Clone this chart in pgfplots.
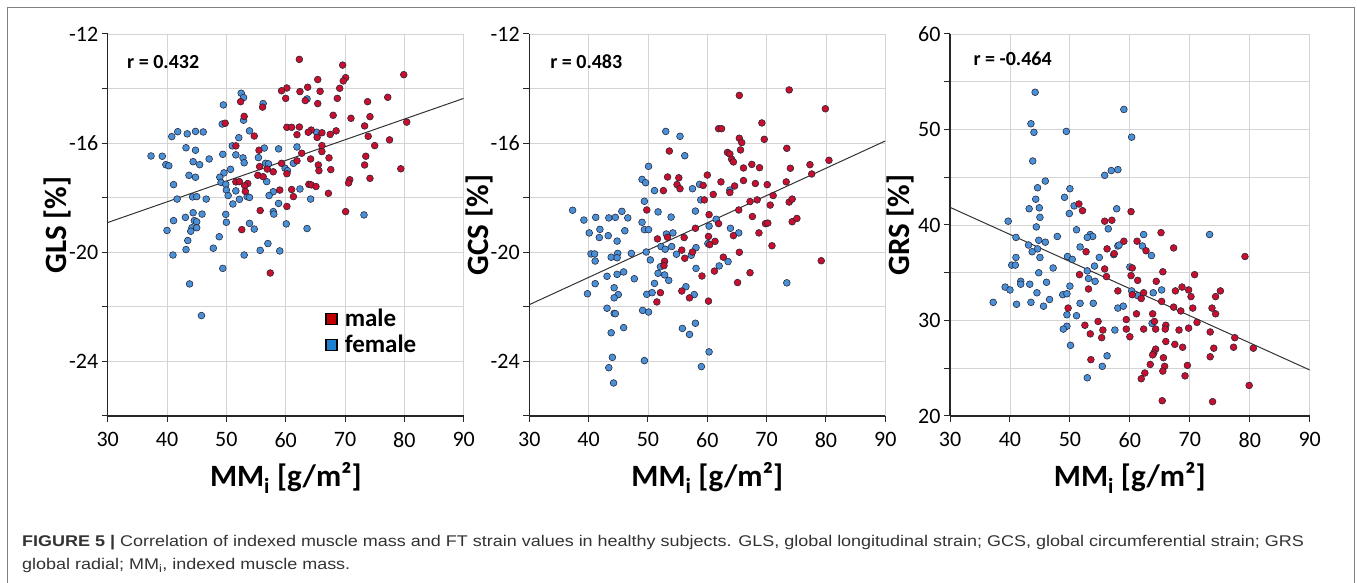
\documentclass[border=0pt]{standalone}
\usepackage{fontspec}
\setmainfont{Carlito}
\newfontfamily\capfont[FakeStretch=1.16]{Liberation Sans}
\usepackage{pgfplots}
\pgfplotsset{compat=1.18}
\definecolor{mred}{RGB}{200,16,46}
\definecolor{fblue}{RGB}{74,144,214}
\definecolor{mkedge}{RGB}{35,35,55}
\definecolor{gridc}{RGB}{212,212,212}
\definecolor{legred}{RGB}{192,0,0}
\definecolor{legblue}{RGB}{32,128,208}

\pgfplotsset{
 panel/.style={
  scale only axis, width=356pt, height=382pt, anchor=south west,
  xmin=30, xmax=90, enlargelimits=false,
  axis lines=left, axis line style={-, line width=1.4pt, black!85},
  xtick={30,40,...,90}, xticklabels={30,40,50,60,70,80,90},
  grid=major, grid style={gridc, line width=0.9pt},
  tick align=outside, major tick length=6pt, tick style={black!85, line width=1pt},
  ticklabel style={font=\fontsize{22}{22}\selectfont},
  xticklabel style={yshift=-7pt},
 },
 fem/.style={only marks, mark=*, mark size=3.4pt, mark options={fill=fblue, draw=mkedge, line width=0.55pt}},
 mal/.style={only marks, mark=*, mark size=3.4pt, mark options={fill=mred, draw=mkedge, line width=0.55pt}},
 reg/.style={black!80, line width=1pt, no marks},
}

\begin{document}
\begin{tikzpicture}
\useasboundingbox (0pt,0pt) rectangle (1357pt,583pt);
\draw[gray, line width=1pt] (7pt,-5pt) -- (7pt,575pt) -- (1354pt,575pt) -- (1354pt,-5pt);

% ---------------- Panel 1: GLS
\begin{axis}[panel, at={(107.7pt,167pt)}, ymin=-26, ymax=-12,
  ytick={-26,-24,...,-12}, yticklabels={,-24,,-20,,-16,,-12},
  reverse legend, legend cell align=left,
  legend style={at={(0.611,0.285)}, anchor=north west, draw=none, fill=none,
    font=\bfseries\fontsize{25}{25}\selectfont, row sep=3pt, inner sep=0pt,
    /tikz/every odd column/.append style={column sep=5pt}}]
\addplot[fem, legend image code/.code={\fill[legblue, draw=black, line width=1.4pt] (0pt,-5.5pt) rectangle (11pt,5.5pt);}] coordinates {
(37.3,-16.47)(39.2,-16.48)(39.8,-16.79)(40.3,-16.83)(40.8,-15.76)(41.8,-15.58)(43.4,-15.66)(44.8,-15.57)(46.1,-15.59)(43.2,-16.17)(44.8,-16.26)(44.4,-16.68)(45.5,-16.79)(47.1,-16.58)(43.7,-17.18)(44.8,-17.25)(41.1,-17.52)(41.7,-18.05)(44.3,-17.97)(45.0,-17.96)(46.6,-18.05)(44.4,-18.55)(45.9,-18.60)(43.1,-18.72)(41.1,-18.84)(44.6,-18.84)(45.0,-18.88)(44.2,-19.10)(45.0,-19.10)(44.0,-19.23)(40.0,-19.20)(43.5,-19.57)(48.8,-19.43)(43.2,-19.90)(47.8,-19.85)(41.0,-20.10)(49.4,-20.59)(43.8,-21.16)(45.8,-22.32)(52.5,-14.17)(52.9,-14.33)(49.5,-14.60)(49.3,-15.30)(52.9,-15.16)(56.2,-14.55)(53.9,-15.55)(52.1,-15.80)(51.0,-16.10)(49.4,-16.41)(51.6,-16.43)(52.8,-16.54)(53.0,-16.72)(55.4,-16.53)(56.4,-16.18)(58.8,-16.21)(61.9,-16.14)(50.7,-16.96)(49.6,-17.09)(48.9,-17.25)(49.1,-17.44)(49.9,-17.51)(50.0,-17.72)(50.3,-17.92)(51.6,-17.75)(52.2,-18.06)(51.1,-18.23)(53.5,-17.96)(53.9,-17.99)(56.6,-16.74)(57.1,-16.76)(56.8,-17.41)(57.9,-17.78)(57.2,-17.92)(58.8,-18.21)(57.9,-18.51)(58.0,-18.60)(61.3,-16.74)(59.9,-16.92)(60.3,-17.01)(62.4,-17.68)(64.2,-18.05)(49.9,-18.61)(50.0,-18.90)(53.9,-18.94)(54.7,-19.15)(60.1,-18.96)(63.6,-19.13)(53.0,-20.10)(55.7,-19.93)(57.0,-19.68)(59.0,-19.95)(65.2,-15.60)(63.6,-14.38)(73.2,-18.63)
};
\addlegendentry{female}
\addplot[mal, legend image code/.code={\fill[legred, draw=black, line width=1.4pt] (0pt,-5.5pt) rectangle (11pt,5.5pt);}] coordinates {
(62.3,-12.93)(69.6,-13.14)(79.9,-13.49)(70.1,-13.60)(69.7,-13.72)(65.4,-13.67)(63.7,-13.95)(60.2,-13.98)(59.3,-14.08)(62.4,-14.11)(65.8,-14.10)(69.1,-13.99)(60.0,-14.36)(63.3,-14.44)(65.4,-14.55)(68.7,-14.36)(77.2,-14.32)(73.8,-14.48)(52.4,-14.48)(56.1,-14.68)(53.0,-15.02)(49.8,-15.27)(68.0,-14.98)(71.0,-15.09)(74.2,-15.03)(80.4,-15.23)(60.2,-15.42)(61.0,-15.42)(62.3,-15.41)(73.3,-15.37)(64.3,-15.52)(63.8,-15.60)(66.1,-15.62)(68.5,-15.55)(67.5,-15.68)(61.9,-15.69)(65.3,-15.79)(54.7,-15.74)(73.9,-15.75)(77.5,-15.88)(51.6,-16.10)(66.1,-16.09)(75.0,-16.09)(55.5,-16.26)(66.1,-16.31)(62.7,-16.37)(73.5,-16.48)(64.2,-16.58)(67.3,-16.54)(61.9,-16.65)(59.3,-16.74)(55.6,-16.86)(65.5,-16.80)(73.3,-16.80)(56.9,-16.95)(79.4,-16.94)(65.6,-17.01)(67.6,-16.97)(57.9,-17.05)(60.2,-17.12)(55.3,-17.18)(56.2,-17.23)(74.2,-17.29)(70.8,-17.34)(51.6,-17.42)(52.2,-17.41)(53.6,-17.48)(53.1,-17.56)(63.9,-17.51)(64.3,-17.53)(65.1,-17.59)(70.6,-17.46)(53.2,-17.77)(59.0,-17.72)(61.0,-17.70)(67.2,-17.84)(61.3,-17.96)(60.2,-18.32)(55.7,-18.47)(70.1,-18.51)(52.6,-19.17)(57.4,-20.76)
};
\addlegendentry{male}
\addplot[reg, forget plot] coordinates {(30,-18.91) (90,-14.36)};
\node[anchor=base west, inner sep=0, font=\bfseries\fontsize{20}{20}\selectfont] at (axis cs:33.25,-13.28) {r = 0.432};
\end{axis}
\node[rotate=90, anchor=base, inner sep=0, font=\bfseries\fontsize{31}{31}\selectfont] at (66.7pt,358pt) {GLS [\%]};
\node[anchor=base, inner sep=0, font=\bfseries\fontsize{31}{31}\selectfont] at (285.9pt,96pt) {MM\textsubscript{i} [g/m²]};

% ---------------- Panel 2: GCS
\begin{axis}[panel, at={(529.3pt,167pt)}, ymin=-26, ymax=-12,
  ytick={-26,-24,...,-12}, yticklabels={,-24,,-20,,-16,,-12}]
\addplot[fem] coordinates {
(37.3,-18.46)(39.2,-18.82)(40.1,-19.29)(40.4,-20.06)(41.0,-20.06)(41.1,-20.32)(41.2,-18.72)(41.9,-19.16)(41.8,-19.46)(43.3,-19.39)(43.4,-18.74)(44.5,-18.72)(45.6,-18.50)(46.6,-18.74)(46.1,-19.21)(44.8,-19.59)(44.9,-20.04)(43.8,-20.18)(44.8,-20.20)(47.2,-20.04)(43.1,-20.88)(44.8,-20.81)(45.9,-20.72)(41.1,-21.15)(39.8,-21.52)(47.7,-20.97)(44.3,-21.30)(45.0,-21.55)(44.3,-21.67)(43.1,-22.05)(44.3,-22.24)(44.5,-22.25)(45.9,-22.76)(43.8,-22.95)(44.0,-23.85)(43.4,-24.23)(44.2,-24.79)(49.4,-23.97)(49.1,-22.13)(50.1,-22.19)(49.8,-21.54)(50.7,-21.48)(51.1,-21.14)(51.7,-20.77)(52.1,-20.53)(52.8,-20.83)(53.5,-21.03)(50.4,-20.28)(49.7,-19.99)(49.0,-18.90)(49.4,-19.17)(50.1,-19.17)(49.4,-18.13)(49.0,-17.33)(49.6,-17.45)(50.1,-16.85)(51.1,-17.74)(51.7,-18.52)(53.0,-15.57)(55.4,-15.75)(56.2,-16.46)(53.9,-18.71)(54.2,-19.29)(53.1,-19.33)(54.0,-19.79)(52.2,-19.79)(52.9,-19.89)(54.8,-20.07)(57.5,-17.67)(58.7,-17.51)(58.0,-18.49)(58.9,-18.08)(58.1,-19.83)(57.3,-20.11)(58.1,-20.59)(57.8,-21.55)(56.4,-21.26)(55.8,-22.79)(57.0,-23.01)(58.0,-22.60)(59.0,-24.19)(60.3,-23.65)(60.3,-19.04)(60.1,-19.68)(62.0,-20.50)(63.5,-20.34)(63.9,-19.12)(63.8,-17.72)(65.3,-19.29)(73.4,-21.12)(61.5,-18.79)
};
\addplot[mal] coordinates {
(73.8,-14.05)(65.4,-14.25)(79.9,-14.74)(69.2,-15.26)(61.9,-15.47)(62.4,-15.47)(65.4,-15.82)(65.8,-15.98)(69.6,-15.86)(73.4,-16.19)(53.6,-16.29)(65.6,-16.25)(63.4,-16.34)(63.8,-16.40)(64.1,-16.59)(64.4,-16.69)(80.5,-16.63)(77.3,-16.79)(67.5,-16.78)(68.8,-16.90)(66.1,-16.91)(74.0,-16.92)(60.0,-17.17)(53.3,-17.24)(55.2,-17.27)(77.6,-17.13)(54.9,-17.52)(55.4,-17.67)(52.6,-17.74)(59.3,-17.55)(62.3,-17.42)(66.1,-17.37)(64.6,-17.57)(68.1,-17.48)(70.1,-17.52)(73.3,-17.42)(61.0,-17.88)(63.8,-17.81)(59.5,-18.08)(67.2,-18.14)(68.4,-18.08)(71.1,-17.92)(73.8,-18.16)(74.3,-18.05)(70.6,-18.27)(49.8,-18.45)(60.3,-18.62)(65.3,-18.45)(67.6,-18.69)(61.9,-18.95)(74.3,-18.88)(75.1,-18.76)(69.8,-18.95)(70.2,-18.93)(58.0,-19.12)(68.7,-19.29)(64.4,-19.39)(60.2,-19.42)(51.6,-19.51)(53.3,-19.45)(56.1,-19.46)(61.3,-19.60)(60.4,-19.72)(70.9,-19.76)(55.7,-19.92)(57.5,-19.99)(65.4,-20.00)(56.2,-20.22)(62.7,-20.18)(52.8,-20.33)(52.7,-20.49)(61.2,-20.69)(79.2,-20.31)(67.2,-20.75)(59.1,-20.87)(65.1,-21.11)(52.1,-21.48)(55.7,-21.42)(57.0,-21.67)(51.5,-21.82)(60.2,-21.79)
};
\addplot[reg] coordinates {(30,-21.92) (90,-15.92)};
\node[anchor=base west, inner sep=0, font=\bfseries\fontsize{20}{20}\selectfont] at (axis cs:33.5,-13.28) {r = 0.483};
\end{axis}
\node[rotate=90, anchor=base, inner sep=0, font=\bfseries\fontsize{31}{31}\selectfont] at (488.3pt,358pt) {GCS [\%]};
\node[anchor=base, inner sep=0, font=\bfseries\fontsize{31}{31}\selectfont] at (707.3pt,96pt) {MM\textsubscript{i} [g/m²]};

% ---------------- Panel 3: GRS
\begin{axis}[panel, at={(950pt,167pt)}, width=359.7pt, ymin=20, ymax=60,
  ytick={20,25,...,60}, yticklabels={20,,30,,40,,50,,60}]
\addplot[fem] coordinates {
(44.2,53.9)(59.0,52.1)(43.5,50.6)(44.0,49.7)(49.4,49.8)(60.3,49.2)(43.8,46.7)(55.8,45.2)(56.9,45.7)(58.0,45.8)(45.9,44.6)(44.6,43.9)(50.0,43.8)(44.3,42.7)(49.1,42.9)(50.7,42.0)(43.2,41.7)(44.9,41.8)(57.8,41.7)(49.9,41.2)(45.0,40.8)(39.7,40.4)(44.4,39.8)(51.1,39.5)(56.4,39.6)(53.4,39.0)(53.8,38.8)(52.9,38.7)(47.9,38.8)(41.0,38.7)(44.8,38.4)(45.9,38.2)(43.1,37.9)(44.6,37.5)(43.7,37.2)(51.7,37.7)(58.0,37.8)(58.2,37.9)(62.1,37.8)(63.6,36.8)(57.3,36.9)(49.6,36.7)(50.4,36.4)(54.9,36.6)(41.0,36.6)(45.0,36.6)(40.3,35.8)(40.9,35.8)(47.2,35.5)(54.1,35.7)(60.0,35.6)(44.8,35.0)(52.9,35.2)(53.1,34.4)(54.2,34.1)(46.1,34.0)(41.8,34.1)(41.8,33.8)(43.3,33.8)(50.0,33.6)(39.2,33.5)(40.0,33.2)(44.5,32.9)(48.8,32.7)(49.5,32.8)(60.3,33.1)(65.3,33.2)(63.9,32.9)(61.3,32.6)(46.6,32.2)(37.2,31.9)(43.5,31.9)(41.1,31.7)(45.6,31.5)(51.7,31.8)(53.9,31.8)(58.0,31.3)(58.9,31.5)(49.5,30.6)(51.1,30.5)(49.5,29.4)(48.9,29.1)(57.5,29.0)(63.7,29.7)(50.1,27.4)(56.2,26.3)(55.4,25.2)(52.9,24.0)(62.3,39.0)(73.3,39.0)
};
\addplot[mal] coordinates {
(51.5,42.2)(52.1,41.5)(60.2,41.4)(55.8,40.4)(57.0,40.5)(65.2,39.2)(61.2,38.3)(59.0,38.3)(62.7,37.3)(56.2,37.5)(57.4,37.0)(52.7,37.2)(67.3,37.6)(79.2,36.7)(60.4,35.5)(55.8,35.4)(65.5,35.1)(60.2,34.7)(70.8,34.8)(51.6,34.8)(56.1,34.6)(61.3,34.2)(64.4,34.1)(53.1,33.3)(58.0,33.1)(60.4,32.7)(62.3,32.9)(68.7,33.5)(69.8,33.2)(67.6,33.1)(75.1,33.1)(70.2,32.5)(74.3,32.5)(61.9,32.3)(65.3,32.0)(49.7,31.3)(70.5,31.3)(73.7,31.3)(67.3,31.4)(68.5,31.0)(61.1,30.7)(63.8,30.7)(74.3,30.7)(59.4,30.1)(54.7,29.9)(64.1,29.9)(71.2,29.8)(52.5,29.5)(66.0,29.5)(59.4,29.1)(62.3,29.1)(64.3,29.1)(55.5,29.0)(65.9,29.1)(68.2,29.0)(69.8,29.2)(73.4,28.8)(53.4,28.6)(55.3,28.2)(60.0,28.3)(77.5,28.2)(66.0,27.8)(67.5,27.5)(68.8,27.2)(77.3,27.2)(74.0,27.1)(80.6,27.1)(64.3,27.0)(64.0,26.6)(63.8,26.4)(73.4,26.2)(65.6,26.1)(53.5,25.9)(63.4,25.4)(69.6,25.3)(65.8,25.2)(65.5,24.7)(62.5,24.5)(61.9,23.9)(69.2,24.2)(79.9,23.2)(65.4,21.6)(73.8,21.5)
};
\addplot[reg] coordinates {(30,41.85) (90,24.82)};
\node[anchor=base west, inner sep=0, font=\bfseries\fontsize{20}{20}\selectfont] at (axis cs:33.9,56.75) {r = -0.464};
\end{axis}
\node[rotate=90, anchor=base, inner sep=0, font=\bfseries\fontsize{31}{31}\selectfont] at (909pt,358pt) {GRS [\%]};
\node[anchor=base, inner sep=0, font=\bfseries\fontsize{31}{31}\selectfont] at (1129.8pt,96pt) {MM\textsubscript{i} [g/m²]};

% caption
\node[anchor=base west, inner sep=0, text=black!80, font=\capfont\fontsize{15.5}{15.5}\selectfont] at (22pt,36pt) {\textbf{FIGURE 5 |} Correlation of indexed muscle mass and FT strain values in healthy subjects. GLS, global longitudinal strain; GCS, global circumferential strain; GRS};
\node[anchor=base west, inner sep=0, text=black!80, font=\capfont\fontsize{15.5}{15.5}\selectfont] at (22pt,13pt) {global radial; MM\textsubscript{i}, indexed muscle mass.};
\end{tikzpicture}
\end{document}
